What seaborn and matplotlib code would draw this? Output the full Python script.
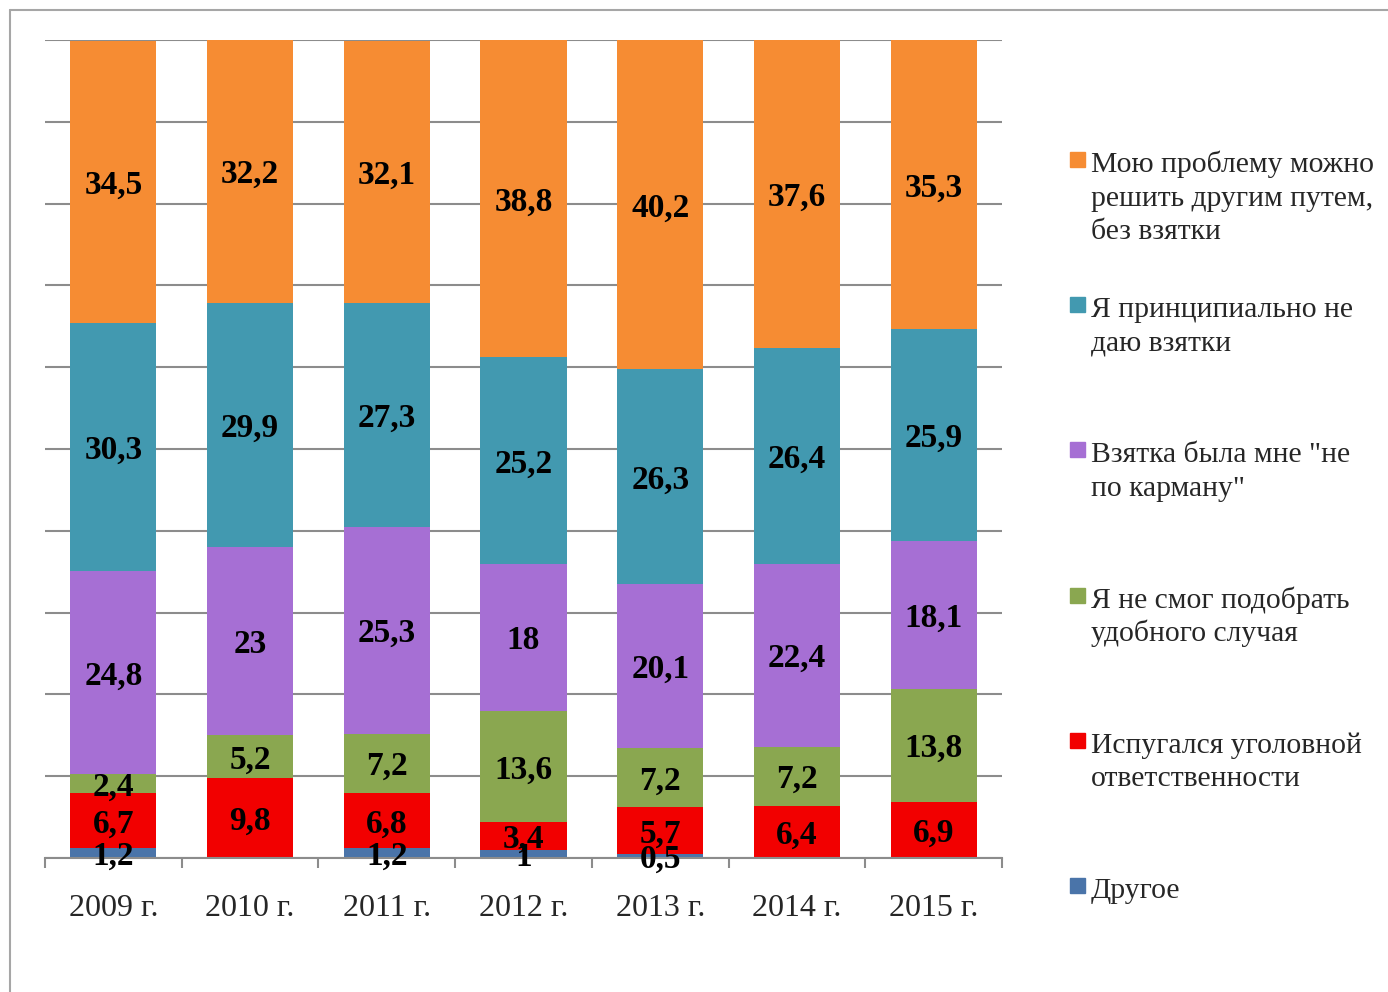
import numpy as np
import pandas as pd
import matplotlib.pyplot as plt
import seaborn as sns
from matplotlib.lines import Line2D
from matplotlib.patches import Rectangle

# данные (снизу вверх)
years = ['2009 г.', '2010 г.', '2011 г.', '2012 г.', '2013 г.', '2014 г.', '2015 г.']
drugoe = [1.2, 0, 1.2, 1, 0.5, 0, 0]
ispugalsya = [6.7, 9.8, 6.8, 3.4, 5.7, 6.4, 6.9]
ne_smog = [2.4, 5.2, 7.2, 13.6, 7.2, 7.2, 13.8]
ne_po_karmanu = [24.8, 23, 25.3, 18, 20.1, 22.4, 18.1]
principialno = [30.3, 29.9, 27.3, 25.2, 26.3, 26.4, 25.9]
drugim_putem = [34.5, 32.2, 32.1, 38.8, 40.2, 37.6, 35.3]

series_names = ['Другое', 'Испугался уголовной\nответственности',
                'Я не смог подобрать\nудобного случая',
                'Взятка была мне "не\nпо карману"',
                'Я принципиально не\nдаю взятки',
                'Мою проблему можно\nрешить другим путем,\nбез взятки']
colors = ['#4a74a9', '#f20000', '#8aa750', '#a66fd4', '#4299b0', '#f68c33']

df = pd.DataFrame({'year': years,
                   series_names[0]: drugoe,
                   series_names[1]: ispugalsya,
                   series_names[2]: ne_smog,
                   series_names[3]: ne_po_karmanu,
                   series_names[4]: principialno,
                   series_names[5]: drugim_putem})
cum = df[series_names].cumsum(axis=1)

sns.set_style('white')
plt.rcParams['font.family'] = ['Liberation Serif', 'DejaVu Serif']

W, H = 1388, 992
fig = plt.figure(figsize=(W / 100, H / 100), dpi=100)
ax = fig.add_axes([45 / W, 1 - 858 / H, 957 / W, 818 / H])

grey = '#8c8c8c'

# накопленные столбцы, сверху вниз
for name, col in zip(reversed(series_names), reversed(colors)):
    sns.barplot(x=df['year'], y=cum[name], color=col, width=0.63,
                saturation=1, linewidth=0, ax=ax, zorder=2)

# подписи значений
for j, name in enumerate(series_names):
    for i in range(len(years)):
        v = df[name][i]
        if v <= 0:
            continue
        yc = cum[name][i] - v / 2
        ax.text(i, yc, f'{v:g}'.replace('.', ','), ha='center',
                va='center_baseline', fontsize=24, fontweight='bold',
                color='black', zorder=5)

ax.set_xlim(-0.5, 6.5)
ax.set_ylim(0, 100)
ax.set_xlabel('')
ax.set_ylabel('')
ax.set_yticks(np.arange(0, 101, 10))
ax.set_yticklabels([])
ax.yaxis.grid(True, color=grey, linewidth=1.5)
ax.set_axisbelow(True)
ax.set_xticks(range(len(years)), years)
ax.set_xticks(np.arange(-0.5, 7, 1), minor=True)
ax.tick_params(axis='x', which='major', length=0, pad=26, labelsize=23)
ax.tick_params(axis='x', which='minor', length=7, width=1.5, color=grey,
               bottom=True)
ax.tick_params(axis='y', length=0)
for s in ['left', 'right', 'top']:
    ax.spines[s].set_visible(False)
ax.spines['bottom'].set_color(grey)
ax.spines['bottom'].set_linewidth(1.5)

# легенда (сверху вниз)
for k, (name, col) in enumerate(zip(reversed(series_names), reversed(colors))):
    base = 172 + 145.2 * k
    fig.add_artist(Rectangle((1070 / W, 1 - (base - 5) / H), 15 / W, 15 / H,
                             transform=fig.transFigure, color=col))
    for n, line in enumerate(name.split('\n')):
        fig.text(1091 / W, 1 - (base + 33.5 * n) / H, line, fontsize=21.3,
                 ha='left', va='baseline')

# рамка
fig.add_artist(Line2D([10 / W, 1], [1 - 10 / H, 1 - 10 / H],
                      transform=fig.transFigure, color='#a6a6a6', lw=1.5))
fig.add_artist(Line2D([10 / W, 10 / W], [0, 1 - 10 / H],
                      transform=fig.transFigure, color='#a6a6a6', lw=1.5))

fig.savefig('out.png', dpi=100)
